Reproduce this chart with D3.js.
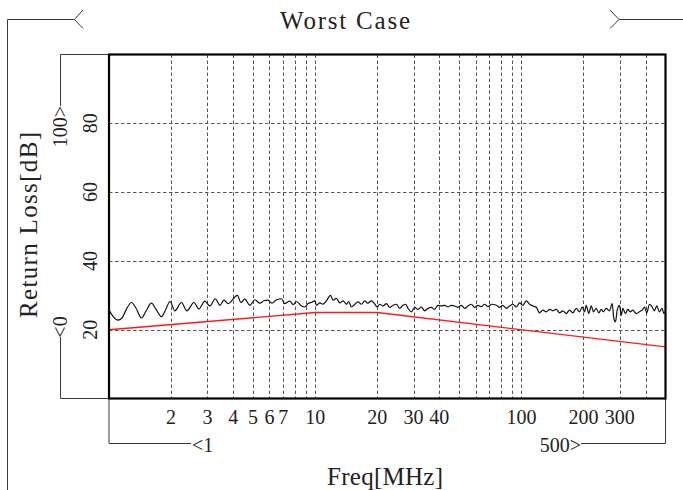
<!DOCTYPE html>
<html>
<head>
<meta charset="utf-8">
<script src="https://cdn.jsdelivr.net/npm/d3@7"></script>
<style>
  html, body { margin: 0; padding: 0; background: #fff; }
  svg { display: block; font-family: "Liberation Serif", "Times New Roman", serif; }
</style>
</head>
<body>
<svg id="chart" width="683" height="490"></svg>
<script>
// Measured return loss (worst case pair), frequency in MHz, value in dB
const freqMHz = [
  1.00, 1.046, 1.105, 1.156, 1.209, 1.285, 1.351, 1.437, 1.511, 1.607,
  1.689, 1.796, 1.889, 1.975, 2.088, 2.245, 2.388, 2.581, 2.729, 2.918,
  3.086, 3.281, 3.450, 3.607, 3.784, 4.195, 4.361, 4.560, 4.822, 5.098,
  5.391, 5.636, 5.893, 6.162, 6.494, 6.866, 7.124, 7.533, 7.816, 8.118,
  8.584, 8.905, 9.240, 9.627, 9.956, 10.15, 10.53, 10.89, 11.34, 11.86,
  12.21, 12.68, 13.16, 13.65, 14.18, 14.55, 14.99, 15.56, 16.14, 16.76,
  17.39, 17.98, 18.74, 19.33, 19.95, 20.56, 21.33, 22.15, 22.98, 23.85,
  24.77, 25.70, 26.67, 27.48, 28.19, 29.29, 30.39, 31.51, 32.73, 33.96,
  35.24, 36.60, 37.97, 39.40, 40.92, 42.46, 44.05, 45.75, 47.47, 49.25,
  51.15, 53.07, 55.06, 57.19, 59.34, 61.56, 63.94, 66.34, 68.83, 71.73,
  75.60, 78.43, 81.37, 84.51, 87.68, 90.97, 94.47, 98.01, 101.7, 105.6,
  109.6, 113.7, 118.1, 122.5, 127.1, 132.0, 137.0, 142.1, 147.6, 153.1,
  158.9, 165.0, 171.2, 177.6, 184.5, 191.4, 197.3, 202.4, 206.3, 212.3,
  218.2, 223.8, 230.7, 237.5, 243.9, 250.2, 257.9, 267.5, 275.7, 280.7,
  286.1, 291.5, 299.1, 304.8, 310.3, 319.8, 328.1, 337.0, 346.9, 360.3,
  373.8, 387.9, 395.3, 405.5, 418.0, 430.8, 441.9, 453.5, 467.4, 481.7,
  490.4, 500.0
];
const returnLossDb = [
  25.7, 23.9, 22.8, 23.4, 25.7, 27.9, 26.3, 23.4, 25.4, 27.7,
  26.0, 23.8, 26.0, 28.2, 25.5, 27.9, 25.5, 27.9, 26.0, 28.3,
  26.9, 29.0, 27.1, 28.6, 27.6, 30.0, 27.9, 28.9, 27.1, 28.7,
  27.7, 28.4, 28.6, 27.7, 28.7, 29.0, 27.6, 28.3, 27.3, 28.2,
  26.9, 26.6, 27.6, 28.0, 28.4, 27.1, 27.8, 27.4, 28.4, 30.0,
  28.6, 29.1, 27.8, 28.4, 27.4, 28.2, 26.6, 27.4, 28.1, 27.4,
  28.4, 27.7, 28.4, 27.7, 26.6, 27.4, 26.9, 27.6, 26.5, 27.1,
  27.4, 26.2, 27.1, 27.4, 26.2, 25.2, 26.5, 25.9, 26.6, 25.5,
  26.2, 26.5, 25.9, 27.1, 26.9, 27.1, 26.6, 27.1, 26.9, 26.5,
  27.1, 26.2, 26.9, 27.4, 26.5, 27.1, 26.7, 27.4, 26.7, 27.4,
  27.1, 26.5, 27.1, 26.2, 26.9, 27.4, 26.6, 27.8, 27.1, 28.4,
  27.4, 26.9, 26.5, 24.9, 25.7, 25.2, 25.9, 25.5, 25.9, 24.9,
  25.5, 24.7, 25.7, 24.9, 26.2, 25.2, 26.6, 25.2, 27.1, 24.7,
  26.9, 25.2, 26.2, 24.9, 25.9, 25.2, 26.2, 25.5, 27.6, 23.3,
  22.3, 25.7, 27.1, 24.2, 26.2, 24.7, 25.9, 25.2, 25.7, 24.7,
  25.2, 25.9, 26.6, 24.9, 27.4, 26.6, 25.5, 26.9, 25.2, 26.2,
  24.7, 25.5
];

// Limit line corner points
const limitFreqMHz = [1, 10, 20, 500];
const limitDb = [20, 25, 25, 15];

// Axis ticks and grid
const xGridValues = [2, 3, 4, 5, 6, 7, 8, 9, 10, 20, 30, 40, 50, 60, 70, 80, 90, 100, 200, 300, 400];
const xTickLabels = [2, 3, 4, 5, 6, 7, 10, 20, 30, 40, 100, 200, 300];
const yGridValues = [20, 40, 60, 80];
const yTickLabels = [20, 40, 60, 80];
const xDomain = [1, 500];
const yDomain = [0, 100];

const titleText = "Worst Case";
const xTitle = "Freq[MHz]";
const yTitle = "Return Loss[dB]";

const svg = d3.select("#chart");
const W = 683, H = 490;
const plot = { left: 109, right: 665.5, top: 54.5, bottom: 398.5 };

svg.append("rect").attr("width", W).attr("height", H).attr("fill", "#fff");

const x = d3.scaleLog().domain(xDomain).range([plot.left, plot.right]);
const y = d3.scaleLinear().domain(yDomain).range([plot.bottom, plot.top]);

const frameColor = "#3a3a3a";

// Outer frame with arrow heads around the title
const frame = svg.append("g").attr("fill", "none").attr("stroke", frameColor).attr("stroke-width", 1);
frame.append("path").attr("d", "M7.5,490 L7.5,19.5 L74.5,19.5");
frame.append("path").attr("d", "M83,10 L74.5,19.5 L83,28.5");
frame.append("path").attr("d", "M610,10 L619,19.5 L610,28.5");
frame.append("path").attr("d", "M619,19.5 L683,19.5");

// Range brackets: y (0..100) and x (1..500)
frame.append("path").attr("d", `M60.5,106 L60.5,${plot.top} L${plot.left},${plot.top}`);
frame.append("path").attr("d", `M60.5,337 L60.5,${plot.bottom} L${plot.left},${plot.bottom}`);
frame.append("path").attr("d", `M${plot.left},${plot.bottom} L${plot.left},443.5 L191,443.5`);
frame.append("path").attr("d", `M581,443.5 L${plot.right},443.5 L${plot.right},${plot.bottom}`);

// Grid
const grid = svg.append("g").attr("stroke", "#555").attr("stroke-width", 1)
  .attr("stroke-dasharray", "3.5,2.5").attr("fill", "none");
grid.selectAll("line.vx").data(xGridValues).join("line")
  .attr("class", "vx")
  .attr("x1", d => Math.round(x(d)) + 0.5).attr("x2", d => Math.round(x(d)) + 0.5)
  .attr("y1", plot.top).attr("y2", plot.bottom);
grid.selectAll("line.hy").data(yGridValues).join("line")
  .attr("class", "hy")
  .attr("x1", plot.left).attr("x2", plot.right)
  .attr("y1", d => Math.round(y(d)) + 0.5).attr("y2", d => Math.round(y(d)) + 0.5);

// Limit line
const limitData = limitFreqMHz.map((f, i) => [f, limitDb[i]]);
svg.append("path").datum(limitData)
  .attr("fill", "none").attr("stroke", "#ff1a1a").attr("stroke-width", 1.4)
  .attr("d", d3.line().x(d => x(d[0])).y(d => y(d[1])));

// Measured trace
const traceData = freqMHz.map((f, i) => [f, returnLossDb[i]]);
svg.append("path").datum(traceData)
  .attr("fill", "none").attr("stroke", "#111").attr("stroke-width", 1.2)
  .attr("stroke-linejoin", "round")
  .attr("d", d3.line().curve(d3.curveMonotoneX).x(d => x(d[0])).y(d => y(d[1])));

// Plot border
svg.append("rect")
  .attr("x", plot.left).attr("y", plot.top)
  .attr("width", plot.right - plot.left).attr("height", plot.bottom - plot.top)
  .attr("fill", "none").attr("stroke", "#000").attr("stroke-width", 2.2);

// X tick labels
svg.append("g").attr("font-size", 20).attr("fill", "#222").attr("text-anchor", "middle")
  .selectAll("text").data(xTickLabels).join("text")
  .attr("x", d => x(d)).attr("y", 423.5)
  .text(d => d);

// X range ends
svg.append("text").attr("x", 192).attr("y", 451.5).attr("font-size", 20).attr("fill", "#222")
  .text("<" + xDomain[0]);
svg.append("text").attr("x", 581).attr("y", 451.5).attr("font-size", 20).attr("fill", "#222")
  .attr("text-anchor", "end").text(xDomain[1] + ">");

// Y tick labels (rotated)
svg.append("g").attr("font-size", 20).attr("fill", "#222").attr("text-anchor", "middle")
  .selectAll("text").data(yTickLabels).join("text")
  .attr("transform", d => `translate(97,${y(d)}) rotate(-90)`)
  .text(d => d);

// Y range ends (rotated)
svg.append("text").attr("font-size", 20).attr("fill", "#222").attr("text-anchor", "middle")
  .attr("transform", "translate(67,126.5) rotate(-90)").text(yDomain[1] + ">");
svg.append("text").attr("font-size", 20).attr("fill", "#222").attr("text-anchor", "middle")
  .attr("transform", "translate(67,327) rotate(-90)").text("<" + yDomain[0]);

// Titles
svg.append("text").attr("x", 345).attr("y", 29).attr("font-size", 25).attr("fill", "#222")
  .attr("text-anchor", "middle").attr("textLength", 130).attr("lengthAdjust", "spacing")
  .text(titleText);
svg.append("text").attr("x", 385).attr("y", 485).attr("font-size", 25).attr("fill", "#222")
  .attr("text-anchor", "middle").attr("textLength", 116).attr("lengthAdjust", "spacing")
  .text(xTitle);
svg.append("text").attr("font-size", 25).attr("fill", "#222").attr("text-anchor", "middle")
  .attr("transform", "translate(37,225) rotate(-90)")
  .attr("textLength", 186).attr("lengthAdjust", "spacing")
  .text(yTitle);
</script>
</body>
</html>
